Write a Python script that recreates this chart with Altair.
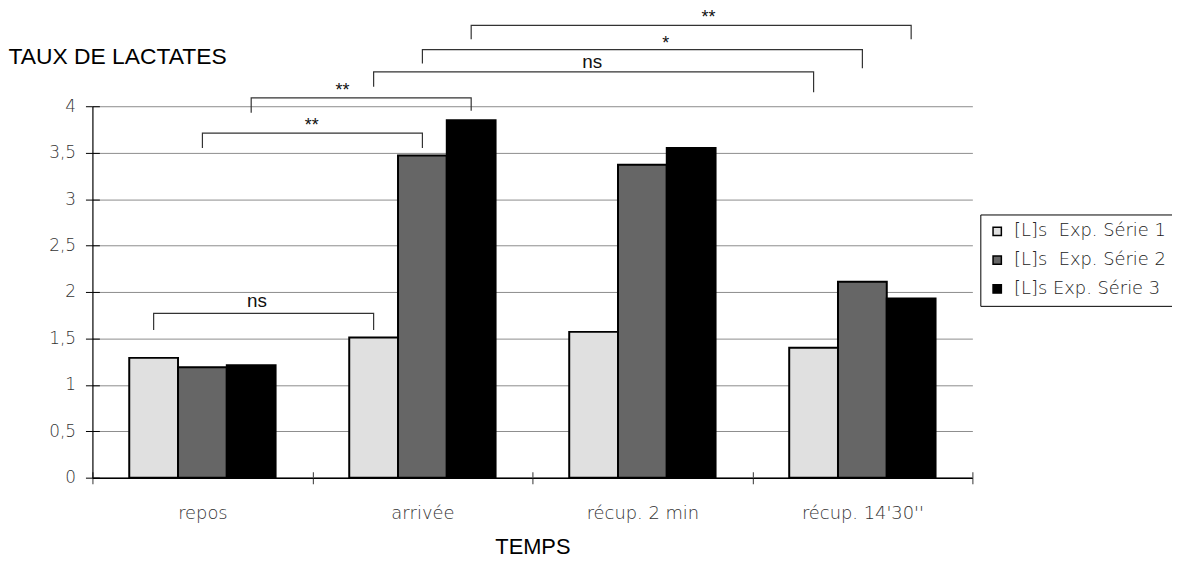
import altair as alt
import pandas as pd

# ---- data ----
categories = ["repos", "arrivée", "récup. 2 min", "récup. 14'30''"]
series_names = ["[L]s\u00a0 Exp. Série 1", "[L]s\u00a0 Exp. Série 2", "[L]s Exp. Série 3"]
serie1 = [1.29, 1.51, 1.57, 1.40]
serie2 = [1.19, 3.47, 3.37, 2.11]
serie3 = [1.21, 3.85, 3.55, 1.93]
series_colors = ["#e0e0e0", "#666666", "#000000"]
y_ticks = [0, 0.5, 1, 1.5, 2, 2.5, 3, 3.5, 4]

# significance brackets (from point -> to point, in category/series terms)
bracket_from_cat = ["repos", "repos", "repos", "arrivée", "arrivée", "arrivée"]
bracket_from_series = [0, 1, 2, 0, 1, 2]
bracket_to_cat = ["arrivée", "arrivée", "arrivée", "récup. 14'30''", "récup. 14'30''", "récup. 14'30''"]
bracket_to_series = [0, 1, 2, 0, 1, 2]
bracket_level = [1.77, 3.71, 4.09, 4.37, 4.61, 4.87]
bracket_from_low = [1.59, 3.55, 3.93, 4.21, 4.46, 4.72]
bracket_to_low = [1.59, 3.55, 3.95, 4.15, 4.41, 4.72]
bracket_labels = ["ns", "**", "**", "ns", "*", "**"]

# label styling (pixel nudges are style, not data)
label_dx = [104, 110, 92, 220, 245, 239]
label_dy = [-12, -7, -7, -10, -6, -7]
label_size = [19, 18, 18, 19, 18, 18]

# ---- tables ----
bars = pd.DataFrame(
    [
        {"cat": c, "serie": series_names[k], "value": vals[i]}
        for k, vals in enumerate([serie1, serie2, serie3])
        for i, c in enumerate(categories)
    ]
)

line_rows = []
for b in range(len(bracket_labels)):
    pts = [
        (bracket_from_cat[b], bracket_from_series[b], bracket_from_low[b]),
        (bracket_from_cat[b], bracket_from_series[b], bracket_level[b]),
        (bracket_to_cat[b], bracket_to_series[b], bracket_level[b]),
        (bracket_to_cat[b], bracket_to_series[b], bracket_to_low[b]),
    ]
    for p, (c, s, v) in enumerate(pts):
        line_rows.append({"bid": b, "pt": p, "cat": c, "serie": series_names[s], "value": v})
lines = pd.DataFrame(line_rows)

labels = pd.DataFrame(
    [
        {"idx": b, "cat": bracket_from_cat[b], "serie": series_names[bracket_from_series[b]],
         "value": bracket_level[b], "label": bracket_labels[b]}
        for b in range(len(bracket_labels))
    ]
)

LIGHT = "DejaVu Sans"
LIGHT_W = 200
SANS = "Liberation Sans"

x_scale = alt.Scale(domain=categories, paddingInner=0, paddingOuter=0)
xo_scale = alt.Scale(domain=series_names, paddingInner=0, paddingOuter=0.755)
y_scale = alt.Scale(domain=[0, 4], nice=False, zero=True)

x_axis = alt.Axis(
    title="TEMPS", labelAngle=0, domainColor="black", domainWidth=1.5,
    tickColor="#555555", tickSize=6, tickWidth=1.2, tickBand="extent",
    labelFont=LIGHT, labelFontWeight=LIGHT_W, labelFontSize=18, labelColor="#333333",
    labelPadding=21, titleFont=SANS, titleFontSize=22, titleFontWeight="normal",
    titleColor="black", titleBaseline="alphabetic", titleY=76, grid=False,
)
y_axis = alt.Axis(
    values=y_ticks, labelExpr="replace(format(datum.value, '~g'), '.', ',')",
    grid=True, gridColor="#8c8c8c", gridWidth=1, domainColor="black", domainWidth=1.2,
    tickColor="black", tickSize=7, labelPadding=10,
    labelFont=LIGHT, labelFontWeight=LIGHT_W, labelFontSize=17, labelColor="#333333",
    title="TAUX DE LACTATES", titleAngle=0, titleAlign="left", titleBaseline="alphabetic",
    titleX=-85, titleY=-43, titleFont=SANS, titleFontSize=23, titleFontWeight="normal",
    titleColor="black",
)

bar_layer = alt.Chart(bars).mark_bar(stroke="black", strokeWidth=2).encode(
    x=alt.X("cat:N", sort=categories, scale=x_scale, axis=x_axis),
    xOffset=alt.XOffset("serie:N", sort=series_names, scale=xo_scale),
    y=alt.Y("value:Q", scale=y_scale, axis=y_axis),
    color=alt.Color(
        "serie:N", sort=series_names,
        scale=alt.Scale(domain=series_names, range=series_colors),
        legend=alt.Legend(
            orient="none", legendX=894, legendY=109, title=None,
            strokeColor="black", fillColor="white", padding=8,
            symbolType="square", symbolSize=70, symbolStrokeColor="black",
            symbolStrokeWidth=1.5, labelFont=LIGHT, labelFontWeight=LIGHT_W,
            labelFontSize=18, labelColor="#222222", rowPadding=11, labelOffset=8,
            labelLimit=300,
        ),
    ),
)

# inner halves of the crossing ticks
x_axis_in = alt.Axis(orient="bottom", offset=-6, tickSize=6, tickColor="#555555", tickWidth=1.2,
                     tickBand="extent", labels=False, domain=False, grid=False, title=None)
y_axis_in = alt.Axis(orient="left", offset=-7, tickSize=7, tickColor="black", values=y_ticks,
                     labels=False, domain=False, grid=False, title=None)

bracket_layer = alt.Chart(lines).mark_line(color="#333333", strokeWidth=1.2).encode(
    x=alt.X("cat:N", sort=categories, scale=x_scale, axis=x_axis_in),
    xOffset=alt.XOffset("serie:N", sort=series_names, scale=xo_scale),
    y=alt.Y("value:Q", scale=y_scale, axis=y_axis_in),
    detail="bid:N",
    order="pt:Q",
)

text_layers = []
for b in range(len(bracket_labels)):
    text_layers.append(
        alt.Chart(labels).transform_filter(f"datum.idx == {b}").mark_text(
            dx=label_dx[b], dy=label_dy[b], font=SANS, fontSize=label_size[b],
            align="center", baseline="middle", color="#111111",
        ).encode(
            x=alt.X("cat:N", sort=categories, scale=x_scale, axis=None),
            xOffset=alt.XOffset("serie:N", sort=series_names, scale=xo_scale),
            y=alt.Y("value:Q", scale=y_scale, axis=None),
            text="label:N",
        )
    )

chart = alt.layer(bar_layer, bracket_layer, *text_layers).resolve_axis(
    x="independent", y="independent"
).properties(
    width=886, height=374,
    autosize=alt.AutoSizeParams(type="none"),
    padding={"left": 85, "top": 97, "right": 201, "bottom": 82},
    background="white",
).configure_view(stroke=None)

chart.save("out.html", embed_options={"renderer": "svg", "actions": False})
